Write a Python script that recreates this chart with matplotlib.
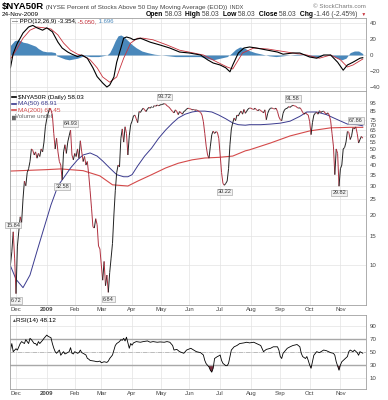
import matplotlib
matplotlib.use("Agg")
import matplotlib.pyplot as plt
import pandas as pd
from matplotlib.collections import LineCollection
from matplotlib.lines import Line2D

plt.rcParams["font.family"] = ["Liberation Sans", "DejaVu Sans"]

# Trading calendar for the chart window
start_day = "2008-11-24"
holidays = ["2008-11-27", "2008-12-25", "2009-01-01", "2009-01-19", "2009-02-16",
            "2009-04-10", "2009-05-25", "2009-07-03", "2009-09-07"]
month_labels = ["Dec", "2009", "Feb", "Mar", "Apr", "May", "Jun",
                "Jul", "Aug", "Sep", "Oct", "Nov"]

# $NYA50R daily close (Nov 24 2008 .. Nov 24 2009)
price = [
    10, 12, 15.84, 11,                                             # Nov
    6.72, 13, 16, 19.5, 18, 25, 32, 30, 36, 38, 42, 50, 49, 46, 48, 44,
    47, 45, 50, 48, 55, 68,                                        # Dec
    76, 82, 88, 86, 80, 62, 50, 58, 48, 42, 40, 32.58, 48, 53, 47, 55,
    60, 64.93, 46, 43,                                             # Jan
    47, 45, 50, 44, 56, 48, 42, 45, 40, 42, 35, 28, 22, 17, 16.7, 19,
    17.5, 13, 12.5,                                                # Feb
    10, 8.1, 10.5, 7.5, 8.7, 6.84, 9, 11, 13.5, 20, 28, 36, 40, 39, 58,
    66, 55, 68, 62, 46, 60, 70,                                    # Mar
    73.5, 79, 80, 76, 72, 84, 83, 86, 88, 86, 84, 87, 89, 88, 90, 90,
    91, 90.5, 92, 91, 92,                                          # Apr
    92.5, 93, 93.72, 93, 91, 90, 88, 86, 84, 82.5, 86, 84, 80.5, 84,
    82.5, 81, 84, 85, 87, 88,                                      # May
    87.5, 87, 86, 86.5, 85.5, 86, 85, 84, 83, 80, 73, 62, 52, 46, 44,
    52, 61, 64, 62, 63.5, 63, 58,                                  # Jun
    46, 36, 31, 30.22, 31, 32, 38, 53, 66, 72, 76.8, 74, 80, 79, 82.5,
    84.5, 81, 86.5, 82, 84.5, 87, 88.2,                            # Jul
    88, 87, 86.5, 88, 86, 85, 86.5, 85, 84, 82.5, 86, 75, 82, 86, 88,
    88.2, 87.5, 87, 88, 84, 78,                                    # Aug
    75, 74, 82, 86, 87.5, 88, 90, 89, 90.5, 91.58, 91, 90.5, 89, 88,
    88.5, 86.5, 83, 81, 82.5, 81, 80,                              # Sep
    73, 61, 72, 80, 82, 83, 81, 85, 83, 84, 84.5, 82.5, 81, 82.5, 80,
    74, 62, 52, 35, 50, 47, 29.82,                                 # Oct
    38, 40, 50, 51, 55, 63.7, 63, 57, 60, 67, 66, 67.86, 62, 54.3, 57,
    59.49, 58.03,                                                  # Nov
]
peak_days = [2, 43, 110, 202, 247]
trough_days = [4, 37, 70, 153, 235]

# moving averages, read at trading-day offsets
ma50_day = [0, 4, 9, 14, 19, 24, 29, 34, 38, 43, 48, 52, 57, 62, 66, 71, 76, 81,
            84, 87, 91, 96, 101, 106, 111, 116, 120, 125, 130, 134, 139, 144,
            149, 154, 159, 163, 168, 171, 179, 186, 193, 200, 207, 212, 219,
            226, 234, 241, 248, 252]
ma50_val = [9.9, 8.2, 7.3, 8.7, 12.1, 16.7, 23, 30, 33.4, 38.4, 43, 46, 47.3,
            45.3, 42.3, 38.4, 35, 34, 34, 35, 39.5, 45.3, 50.6, 58, 65, 71.7,
            76.8, 81, 83.5, 84.5, 84.5, 83.5, 80, 76, 71.7, 70, 69.5, 70, 70,
            70.6, 71.5, 73.5, 78.6, 83.5, 83.5, 80.5, 75, 70.6, 70, 68.91]
ma200_day = [0, 25, 36, 52, 64, 73, 84, 91, 101, 111, 120, 130, 139, 149, 159,
             168, 171, 186, 200, 214, 229, 243, 252]
ma200_val = [36.8, 37.5, 37.9, 37, 34.4, 30.4, 29.9, 32, 35, 38.4, 41, 43, 44.1,
             44.5, 45.3, 48.7, 49.4, 54.3, 59.9, 64.2, 67, 67.5, 67.45]

# PPO(12,26,9)
ppo_day = [0, 2, 5, 7, 9, 13, 16, 19, 23, 26, 30, 34, 37, 41, 44, 48, 51, 55,
           59, 62, 66, 69, 71, 74, 76, 79, 81, 83, 86, 88, 93, 100, 107, 114,
           121, 128, 136, 141, 145, 150, 154, 157, 159, 163, 167, 171, 176,
           184, 191, 195, 202, 207, 214, 219, 224, 229, 234, 238, 241, 245,
           250, 252]
ppo_val = [-16, 2, 15, 21, 27.5, 35, 37, 34, 31, 34, 29, 16, 8.7, 3.7, 1, -2,
           0, -4, -16, -27, -35, -40, -37.5, -27.5, -9, 8.7, 21, 22.5, 21, 19,
           21, 16, 12.5, 8.7, 3.7, 2.5, 0, -6, -10, -12.5, -16, -21, -12.5,
           2.5, 8.7, 10, 8.7, 6, 3.7, 1, 2.5, 2.5, -2.5, -4, 0, 0, -9, -19,
           -12.5, -9, -4, -3.354]
sig_day = [0, 5, 9, 14, 19, 24, 29, 34, 38, 43, 48, 52, 57, 62, 66, 71, 76, 81,
           86, 91, 95, 102, 112, 121, 131, 138, 148, 155, 159, 162, 166, 174,
           184, 193, 202, 212, 221, 229, 236, 241, 245, 252]
sig_val = [-5, 8.7, 21, 31, 35, 34, 32.5, 25, 15, 6, 1, -1, -6, -16, -27.5,
           -34, -27.5, -4, 15, 21, 21, 19, 12.5, 6, 2.5, 0, -9, -15, -17.5, -9,
           2.5, 8.7, 7.5, 5, 2.5, 0, -4, 0, -6, -15, -12.5, -5.05]
hist_day = [0, 3, 6, 9, 12, 15, 18, 20, 23, 26, 29, 32, 33, 36, 39, 42, 45, 48,
            51, 54, 57, 60, 63, 66, 69, 71, 73, 75, 77, 79, 81, 84, 87, 90, 94,
            98, 103, 108, 113, 118, 124, 130, 136, 140, 145, 150, 155, 158,
            161, 164, 167, 170, 175, 180, 185, 190, 195, 200, 205, 210, 215,
            220, 225, 230, 234, 237, 240, 243, 246, 249, 252]
hist_val = [12, 18, 19, 16, 15, 13, 11, 8, 5, 4, 4, 3, -1, -3, -5, -6, -5, -4,
            -2, -1, -2, -2, -2, -1, 0, 3, 10, 18, 24, 25, 23, 18, 13, 9, 5, 3,
            1, 0, -1, -2, -2, -2, -2, -4, -6, -4, -2, 2, 7, 10, 9, 6, 3, 1, -1,
            -2, -1, 0, 1, 0, -2, -2, 0, -1, -4, -6, -4, 3, 5, 5, 1.7]

# RSI(14)
rsi_day = [0, 1, 2, 4, 5, 6, 7, 8, 10, 11, 12, 13, 14, 15, 17, 18, 19, 20, 21,
           23, 24, 25, 26, 27, 29, 30, 31, 32, 33, 35, 36, 37, 38, 39, 40, 42,
           43, 44, 45, 46, 48, 49, 50, 51, 52, 54, 55, 56, 57, 60, 62, 64, 65,
           67, 69, 70, 71, 73, 74, 75, 76, 78, 79, 80, 81, 82, 83, 85, 86, 87,
           88, 90, 93, 95, 98, 100, 102, 105, 107, 110, 112, 114, 116, 117,
           119, 121, 124, 126, 129, 131, 133, 136, 138, 139, 140, 142, 143,
           144, 145, 146, 148, 149, 150, 151, 152, 154, 155, 156, 157, 158,
           160, 162, 164, 167, 169, 171, 174, 176, 179, 181, 183, 186, 188,
           191, 192, 193, 194, 195, 198, 200, 202, 205, 207, 208, 209, 211,
           212, 213, 214, 215, 216, 217, 219, 221, 224, 226, 229, 231, 232,
           233, 235, 236, 237, 238, 241, 242, 243, 245, 246, 248, 249, 250, 252]
rsi_val = [53, 63, 50.5, 55, 53, 58, 63, 66, 63, 69, 66, 63, 71, 69, 63, 63, 60,
           66, 63, 68, 71, 73.5, 76, 74, 72, 63, 56, 50.5, 48, 53, 45, 48, 50.5,
           47, 48, 50.5, 56.7, 48, 47, 50.5, 48, 49, 53, 49, 48, 45.4, 40.3, 39,
           37, 36, 35, 36, 33.5, 35, 34, 36, 40, 45.4, 53, 60, 63, 66, 69, 68,
           71, 67, 72.8, 55.7, 63, 60.5, 64, 66, 65, 66, 67, 65, 66, 65, 65.5,
           65, 66, 65, 60, 53, 54, 50.5, 48, 53, 55.7, 53, 50.5, 49, 45.4, 37,
           32, 27, 22, 19, 25, 40, 43, 44, 45.4, 37, 32.5, 29, 29, 32.5, 43, 53,
           58, 60, 63, 64, 65, 64, 65, 63, 60, 50.5, 54, 55.7, 58, 58, 53, 43,
           40, 48, 55.7, 58, 60, 61.5, 58, 48, 43, 40, 43, 37, 30, 25, 35, 45,
           50.5, 49, 53, 52, 49, 48, 45, 35, 22, 30, 35, 37, 43, 50.5, 53, 50.5,
           53, 49, 45, 50.5, 48.12]

# ---------------------------------------------------------------------------
W, H = 388, 400
fig = plt.figure(figsize=(W / 100, H / 100), dpi=100)
fig.patch.set_facecolor("white")

days = list(range(len(price)))
dates = pd.date_range(start_day, periods=len(price),
                      freq=pd.offsets.CustomBusinessDay(holidays=holidays))
month_days = [i for i in range(1, len(dates)) if dates[i].month != dates[i - 1].month]

GRID = "#e3e3e3"
RED = "#c8323c"
TXT = "#444444"


def panel(top, bottom):
    a = fig.add_axes([10 / W, 1 - bottom / H, 356 / W, (bottom - top) / H])
    for s in a.spines.values():
        s.set_color("#a0a0a0")
        s.set_linewidth(0.6)
    a.yaxis.tick_right()
    a.tick_params(axis="both", length=0, labelsize=4.4, colors=TXT, pad=2.5)
    a.set_xlim(-0.3, 254.3)
    a.set_xticks(month_days)
    a.grid(True, color=GRID, lw=0.5)
    a.set_axisbelow(True)
    return a


def month_ticks(a):
    a.set_xticklabels(month_labels)
    a.tick_params(axis="x", pad=1.2, labelsize=4.3)
    a.get_xticklabels()[1].set_fontweight("bold")


def put_run(x, y, parts, size, align="left"):
    # parts: (text, colour, weight) or (text, colour, weight, size)
    r = fig.canvas.get_renderer()
    texts = []
    for p in parts:
        fs = p[3] if len(p) > 3 else size
        texts.append(fig.text(0, 1 - y / H, p[0], color=p[1], fontweight=p[2],
                              fontsize=fs, va="baseline", ha="left"))
    widths = [t.get_window_extent(r).width for t in texts]
    if align == "right":
        x -= sum(widths)
    for t, w in zip(texts, widths):
        t.set_x(x / W)
        x += w


# ---- PPO panel
ax_ppo = panel(18, 91)
ax_ppo.set_ylim(-45, 46.25)
ax_ppo.set_yticks([-40, -20, 0, 20, 40])
ax_ppo.set_xticklabels([])
ax_ppo.fill_between(hist_day, hist_val, 0, color="#4a88bb", lw=0)
ax_ppo.plot(sig_day, sig_val, color=RED, lw=0.6)
ax_ppo.plot(ppo_day, ppo_val, color="black", lw=0.8)

# ---- price panel
ax = panel(91, 305)
ax.set_yscale("log")
ax.set_ylim(5.74, 111.7)
yt = [10, 15, 20, 25, 30, 35, 40, 45, 50, 55, 60, 65, 70, 75, 85, 95]
ax.set_yticks(yt)
ax.set_yticklabels([str(v) for v in yt])
ax.minorticks_off()
ax.grid(True, color=GRID, lw=0.5)
month_ticks(ax)

ax.plot(ma200_day, ma200_val, color="#d44a4a", lw=0.8)
ax.plot(ma50_day, ma50_val, color="#3b3b8f", lw=0.7)
segs = [[(days[i], price[i]), (days[i + 1], price[i + 1])] for i in range(len(price) - 1)]
cols = ["#222222" if price[i + 1] >= price[i] else "#b0303f" for i in range(len(price) - 1)]
ax.add_collection(LineCollection(segs, colors=cols, linewidths=0.7))

box = dict(boxstyle="square,pad=0.15", fc="#f2f2f2", ec="#9a9a9a", lw=0.4)
for d in peak_days:
    ax.annotate(f"{price[d]:.2f}", (d, price[d]), xytext=(0, 3), textcoords="offset points",
                ha="center", va="bottom", fontsize=4, color="#333333", bbox=box)
for d in trough_days:
    ax.annotate(f"{price[d]:.2f}", (d, price[d]), xytext=(0, -3), textcoords="offset points",
                ha="center", va="top", fontsize=4, color="#333333", bbox=box)

# ---- RSI panel
ax_rsi = panel(315, 389)
ax_rsi.set_ylim(-6.9, 106.9)
ax_rsi.set_yticks([10, 30, 50, 70, 90])
month_ticks(ax_rsi)
ax_rsi.axhline(70, color="#a8a8a8", lw=1.0)
ax_rsi.axhline(30, color="#a8a8a8", lw=1.0)
ax_rsi.axhline(50, color="#a8a8a8", lw=0.5, ls="-.")
ax_rsi.fill_between(rsi_day, rsi_val, 30, where=[v < 30 for v in rsi_val],
                    interpolate=True, color="#7d3040", lw=0)
ax_rsi.plot(rsi_day, rsi_val, color="black", lw=0.6)

# ---- header and legends
put_run(2, 9, [("$NYA50R", "black", "bold", 6.8),
               (" (NYSE Percent of Stocks Above 50 Day Moving Average (EOD))", TXT, "normal", 4.6),
               ("  INDX", TXT, "normal", 4.0)], 4.6)
put_run(366, 8, [("\u00a9 StockCharts.com", "#777777", "normal")], 4.4, align="right")
put_run(2, 16, [("24-Nov-2009", "black", "normal")], 4.6)
put_run(366, 16, [("Open", "black", "bold"), (" 58.03 ", TXT, "normal"),
                  (" High", "black", "bold"), (" 58.03 ", TXT, "normal"),
                  (" Low", "black", "bold"), (" 58.03 ", TXT, "normal"),
                  (" Close", "black", "bold"), (" 58.03 ", TXT, "normal"),
                  (" Chg", "black", "bold"), (" -1.46 (-2.45%) ", TXT, "normal"),
                  (" \u25bc", RED, "normal", 3.5)], 4.9, align="right")

put_run(12, 23, [("\u2014 PPO(12,26,9) -3.354,", "black", "normal"),
                 (" -5.050,", RED, "normal"), (" 1.696", "#4a88bb", "normal")], 4.3)

legend_rows = [("$NYA50R (Daily) 58.03", "black"), ("MA(50) 68.91", "#3b3b8f"),
               ("MA(200) 67.45", "#d44a4a")]
for k, (s, c) in enumerate(legend_rows):
    y = 97 + 6.6 * k
    fig.add_artist(Line2D([12 / W, 16 / W], [1 - y / H] * 2, color=c, lw=1.2))
    put_run(17.5, y + 1.7, [(s, "black" if k == 0 else c, "normal")], 4.6)
put_run(11.5, 97 + 6.6 * 3 + 1.7,
        [("\u2587", "#666666", "normal", 3.5), ("Volume undef", "#666666", "normal")], 4.4)

put_run(11.5, 322, [("\u25b2", "#555555", "normal", 3.5), ("RSI(14) 48.12", "black", "normal")], 4.6)

fig.savefig("out.png", dpi=100)
